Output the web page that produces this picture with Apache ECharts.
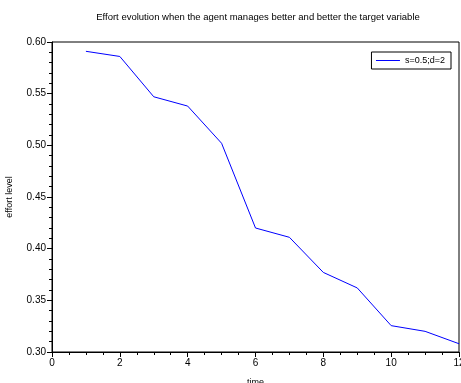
<!DOCTYPE html>
<html><head><meta charset="utf-8">
<script src="https://cdn.jsdelivr.net/npm/echarts@6/dist/echarts.min.js"></script>
<style>html,body{margin:0;padding:0;background:#fff}#c{width:461px;height:383px}</style>
</head><body><div id="c"></div>
<script>
const times = [1,2,3,4,5,6,7,8,9,10,11,12];
const effort = [0.591,0.586,0.547,0.538,0.502,0.420,0.411,0.377,0.362,0.3255,0.320,0.308];
const seriesName = 's=0.5;d=2';
const titleText = 'Effort evolution when the agent manages better and better the target variable';
const xName = 'time';
const yName = 'effort level';

const chart = echarts.init(document.getElementById('c'), null, {renderer:'canvas'});
const font = 'Liberation Sans, Arial, sans-serif';
chart.setOption({
  animation:false,
  backgroundColor:'#fff',
  title:{text:titleText,left:253,textAlign:'center',top:7,textStyle:{fontFamily:font,fontSize:9.5,fontWeight:'normal',color:'#000'}},
  legend:{right:10,top:52,orient:'vertical',itemWidth:24,itemHeight:8,itemGap:0,
    padding:[4,6,4,4],borderColor:'#000',borderWidth:1,
    itemStyle:{opacity:0},lineStyle:{width:1},
    textStyle:{fontFamily:font,fontSize:9,color:'#000'},data:[seriesName]},
  grid:{left:52,right:2,top:42,bottom:31,show:true,borderColor:'#000',borderWidth:1,containLabel:false,outerBoundsMode:'none'},
  xAxis:{type:'value',min:0,max:12,interval:2,name:xName,nameLocation:'middle',nameGap:26,
    nameTextStyle:{fontFamily:font,fontSize:9,color:'#000'},
    axisLine:{lineStyle:{color:'#000'}},axisTick:{length:5,lineStyle:{color:'#000'}},
    minorTick:{show:true,splitNumber:4,length:3,lineStyle:{color:'#000'}},
    splitLine:{show:false},
    axisLabel:{fontFamily:font,fontSize:10,color:'#000',margin:6}},
  yAxis:{type:'value',min:0.30,max:0.60,interval:0.05,name:yName,nameLocation:'middle',nameGap:38,
    nameTextStyle:{fontFamily:font,fontSize:9,color:'#000'},
    axisLine:{lineStyle:{color:'#000'}},axisTick:{length:5,lineStyle:{color:'#000'}},
    minorTick:{show:true,splitNumber:5,length:3,lineStyle:{color:'#000'}},
    splitLine:{show:false},
    axisLabel:{fontFamily:font,fontSize:10,color:'#000',margin:6,formatter:v=>v.toFixed(2)}},
  series:[{name:seriesName,type:'line',symbol:'none',
    data:times.map((t,i)=>[t,effort[i]]),
    lineStyle:{color:'#0000ff',width:1},itemStyle:{color:'#0000ff'}}]
});
</script></body></html>
